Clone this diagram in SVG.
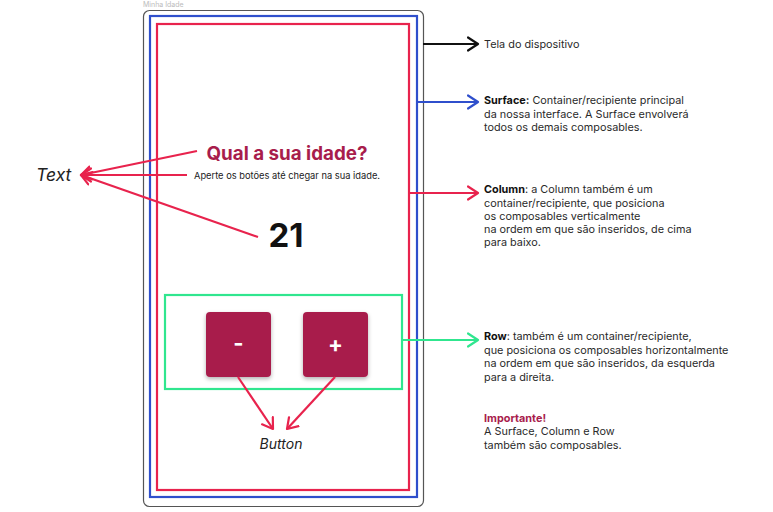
<svg xmlns="http://www.w3.org/2000/svg" width="773" height="512" viewBox="0 0 773 512">
<style>
text{font-family:Inter,"Noto Sans","Liberation Sans",sans-serif}
.desc{font-size:10.85px;fill:#2a2a2a}
.b{font-weight:bold;fill:#111}
.lbl{font-size:17.5px;font-style:italic;fill:#222}
.red{stroke:#e8234d;stroke-width:2.2;fill:none}
.blue{stroke:#2f4fcc;stroke-width:2.2;fill:none}
.green{stroke:#30e68f;stroke-width:2.2;fill:none}
.blk{stroke:#111;stroke-width:2;fill:none}
.btn{fill:#a81d4c}
</style>
<defs>
<marker id="hk" markerUnits="userSpaceOnUse" markerWidth="14" markerHeight="16" viewBox="0 0 14 16" refX="11" refY="8" orient="auto"><path d="M1,1.5 L11,8 L1,14.5" fill="none" stroke="#111" stroke-width="2.2" stroke-linecap="round" stroke-linejoin="round"/></marker>
<marker id="hb" markerUnits="userSpaceOnUse" markerWidth="14" markerHeight="16" viewBox="0 0 14 16" refX="11" refY="8" orient="auto"><path d="M1,1.5 L11,8 L1,14.5" fill="none" stroke="#2f4fcc" stroke-width="2.2" stroke-linecap="round" stroke-linejoin="round"/></marker>
<marker id="hr" markerUnits="userSpaceOnUse" markerWidth="14" markerHeight="16" viewBox="0 0 14 16" refX="11" refY="8" orient="auto"><path d="M1,1.5 L11,8 L1,14.5" fill="none" stroke="#e8234d" stroke-width="2.2" stroke-linecap="round" stroke-linejoin="round"/></marker>
<marker id="hg" markerUnits="userSpaceOnUse" markerWidth="14" markerHeight="16" viewBox="0 0 14 16" refX="11" refY="8" orient="auto"><path d="M1,1.5 L11,8 L1,14.5" fill="none" stroke="#30e68f" stroke-width="2.2" stroke-linecap="round" stroke-linejoin="round"/></marker>
<filter id="sh" x="-20%" y="-20%" width="140%" height="150%"><feDropShadow dx="0" dy="2" stdDeviation="2" flood-color="#000" flood-opacity="0.3"/></filter>
</defs>
<rect width="773" height="512" fill="#fff"/>

<g id="device">
<text x="143" y="7" font-size="7" fill="#bbb">Minha Idade</text>
<rect x="143.5" y="10.5" width="280" height="496" rx="6" fill="#fff" stroke="#555" stroke-width="1.2"/>
</g>
<g id="surface"><rect x="150" y="16" width="267" height="481" class="blue"/></g>
<g id="column"><rect x="157" y="24" width="252" height="466" class="red"/></g>

<g id="title"><text x="287" y="160" text-anchor="middle" font-size="18.8" font-weight="bold" fill="#a81d4c">Qual a sua idade?</text></g>
<g id="subtitle"><text x="287" y="178.5" text-anchor="middle" font-size="9.3" fill="#222">Aperte os botões até chegar na sua idade.</text></g>
<g id="age"><text x="286" y="247" text-anchor="middle" font-size="33" font-weight="bold" fill="#111">21</text></g>

<g id="row"><rect x="165" y="295" width="237" height="94" class="green"/></g>
<g id="btn-minus"><rect x="206" y="312" width="65" height="65" rx="4" class="btn" filter="url(#sh)"/><text x="238.5" y="351" text-anchor="middle" font-size="22" font-weight="bold" fill="#fff">-</text></g>
<g id="btn-plus"><rect x="303" y="312" width="65" height="65" rx="4" class="btn" filter="url(#sh)"/><text x="335.5" y="352" text-anchor="middle" font-size="22" font-weight="bold" fill="#fff">+</text></g>

<g id="lbl-text"><text x="36" y="181" class="lbl">Text</text></g>
<g id="lbl-button"><text x="281" y="449" text-anchor="middle" font-size="14" font-style="italic" fill="#222">Button</text></g>

<g id="connectors">
<line x1="423" y1="44" x2="478" y2="44" class="blk" marker-end="url(#hk)"/>
<line x1="417" y1="102" x2="478" y2="102" class="blue" marker-end="url(#hb)"/>
<line x1="409" y1="193" x2="478" y2="193" class="red" marker-end="url(#hr)"/>
<line x1="402" y1="340" x2="478" y2="340" class="green" marker-end="url(#hg)"/>
<line x1="197" y1="151" x2="81" y2="175" class="red" marker-end="url(#hr)"/>
<line x1="187" y1="175" x2="81" y2="175" class="red" marker-end="url(#hr)"/>
<line x1="258" y1="237" x2="81" y2="175" class="red" marker-end="url(#hr)"/>
<line x1="238" y1="377" x2="273" y2="429" class="red" marker-end="url(#hr)"/>
<line x1="335" y1="377" x2="287" y2="429" class="red" marker-end="url(#hr)"/>
</g>

<g id="note-tela"><text x="484" y="48" class="desc">Tela do dispositivo</text></g>
<g id="note-surface"><text class="desc"><tspan x="484" y="104"><tspan class="b">Surface:</tspan> Container/recipiente principal</tspan><tspan x="484" y="117.5">da nossa interface. A Surface envolverá</tspan><tspan x="484" y="131">todos os demais composables.</tspan></text></g>
<g id="note-column"><text class="desc"><tspan x="484" y="193"><tspan class="b">Column</tspan>: a Column também é um</tspan><tspan x="484" y="206.5">container/recipiente, que posiciona</tspan><tspan x="484" y="219.5">os composables verticalmente</tspan><tspan x="484" y="232.5">na ordem em que são inseridos, de cima</tspan><tspan x="484" y="246">para baixo.</tspan></text></g>
<g id="note-row"><text class="desc"><tspan x="484" y="340"><tspan class="b">Row</tspan>: também é um container/recipiente,</tspan><tspan x="484" y="354">que posiciona os composables horizontalmente</tspan><tspan x="484" y="367">na ordem em que são inseridos, da esquerda</tspan><tspan x="484" y="381">para a direita.</tspan></text></g>
<g id="note-important"><text class="desc"><tspan x="484" y="422" font-weight="bold" fill="#a81d4c">Importante!</tspan><tspan x="484" y="435">A Surface, Column e Row</tspan><tspan x="484" y="449">também são composables.</tspan></text></g>
</svg>
